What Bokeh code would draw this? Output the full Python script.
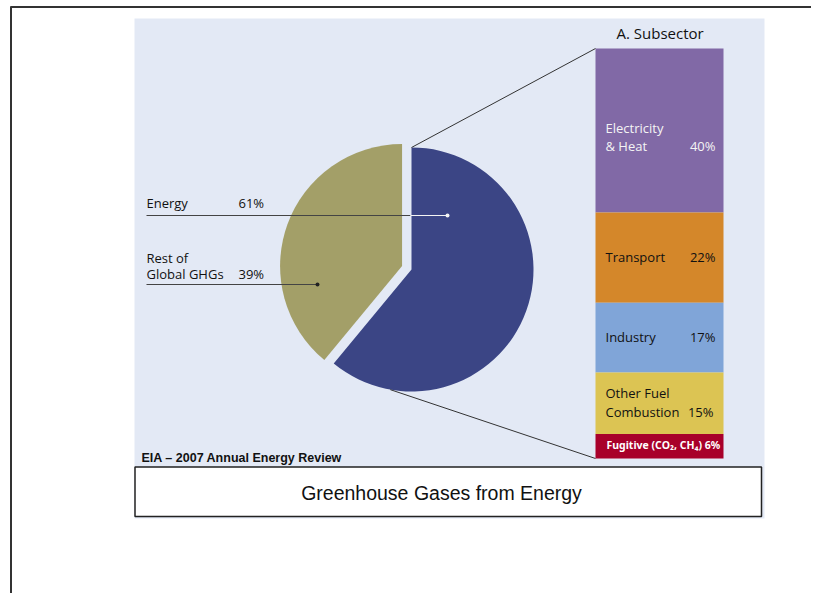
import math
from bokeh.plotting import figure
from bokeh.models import Range1d
from bokeh.core.properties import value
from bokeh.embed import file_html
from bokeh.resources import INLINE

# ---- data ----
pie_labels = ["Energy", "Rest of Global GHGs"]
pie_values = [61, 39]
pie_colors = ["#3b4585", "#a39f68"]

sub_labels = ["Electricity & Heat", "Transport", "Industry", "Other Fuel Combustion", "Fugitive (CO2, CH4)"]
sub_values = [40, 22, 17, 15, 6]
sub_colors = ["#8169a6", "#d4872a", "#80a5d8", "#dcc453", "#a8002a"]

title_text = "Greenhouse Gases from Energy"
source_text = "EIA \u2013 2007 Annual Energy Review"
sub_title = "A.  Subsector"

# ---- geometry helpers (picture px -> data) ----
H = 601
def Y(py):
    return H - py

W_FIG, H_FIG = 811, 593
p = figure(width=W_FIG, height=H_FIG, output_backend="svg", toolbar_location=None,
           x_range=Range1d(0, W_FIG), y_range=Range1d(H - H_FIG, H),
           min_border=0)
p.axis.visible = False
p.grid.visible = False
p.outline_line_color = None
p.background_fill_color = "white"
p.border_fill_color = "white"

# outer frame
p.line([10.5, 10.5], [Y(6), Y(601)], line_color="#333333", line_width=2)
p.line([10, 819], [Y(6.5), Y(6.5)], line_color="#333333", line_width=2)

# panel
p.quad(left=134, right=764, top=Y(18), bottom=Y(518), fill_color="#e3e9f5", line_color=None)

# ---- pie ----
cx, cy, r = 411, Y(269), 122
tot = sum(pie_values)
frac_e = pie_values[0] / tot
a_top = math.pi / 2
a_e_start = a_top - 2 * math.pi * frac_e
p.wedge(x=cx, y=cy, radius=r, start_angle=a_e_start, end_angle=a_top,
        fill_color=pie_colors[0], line_color=None)
a_r_end = a_top + 2 * math.pi * (pie_values[1] / tot)
mid = (a_top + a_r_end) / 2
off = 10
ox, oy = cx + off * math.cos(mid), cy + off * math.sin(mid)
p.wedge(x=ox, y=oy, radius=r, start_angle=a_top, end_angle=a_r_end,
        fill_color=pie_colors[1], line_color=None)

# ---- stacked subsector bar ----
bx0, bx1 = 595, 723
btop = Y(48)
scale = 4.1
tops, bots = [], []
acc = 0
for v in sub_values:
    tops.append(btop - acc * scale)
    acc += v
    bots.append(btop - acc * scale)
p.quad(left=bx0, right=bx1, top=tops, bottom=bots, fill_color=sub_colors, line_color=None)

# connectors
p.line([cx, bx0], [cy + r, btop], line_color="#333333", line_width=1)
ab = math.radians(-100)
p.line([cx + r * math.cos(ab), bx0], [cy + r * math.sin(ab), bots[-1]], line_color="#333333", line_width=1)

dark = "#111111"
F = value("Open Sans")

def txt(x, py, s, size, color=dark, align="left", font=F, style="normal"):
    fs = float(size.replace("px", ""))
    y = Y(py - 0.45 * fs)
    p.text(x=[x], y=[y], text=[s], text_font=font, text_font_size=size,
           text_color=color, text_align=align, text_baseline="alphabetic",
           text_font_style=style)

# subtitle
txt(616, 39, sub_title, "15px")

# bar labels
lx, rx = 605, 715
txt(lx, 133, "Electricity", "13px", color="#f4f4f4")
txt(lx, 151, "& Heat", "13px", color="#f4f4f4")
txt(rx, 151, f"{sub_values[0]}%", "13px", color="#f4f4f4", align="right")
txt(lx, 262, sub_labels[1], "13px")
txt(rx, 262, f"{sub_values[1]}%", "13px", align="right")
txt(lx, 342, sub_labels[2], "13px")
txt(rx, 342, f"{sub_values[2]}%", "13px", align="right")
txt(lx, 398, "Other Fuel", "13px")
txt(lx, 417, "Combustion", "13px")
txt(rx - 2, 417, f"{sub_values[3]}%", "13px", align="right")
txt(606, 449, "Fugitive (CO\u2082, CH\u2084) " + f"{sub_values[4]}%", "10.5px", color="white",
    font=value("Noto Sans"), style="bold")

# pie labels
txt(146, 208, pie_labels[0], "13px")
txt(238, 208, f"{pie_values[0]}%", "13px")
txt(146, 263, "Rest of", "13px")
txt(146, 279, "Global GHGs", "13px")
txt(238, 279, f"{pie_values[1]}%", "13px")

# leader lines
ey = Y(215)
p.line([146, 410], [ey, ey], line_color="#444444", line_width=1.2)
p.line([410, 447], [ey, ey], line_color="#f4f4f4", line_width=1.2)
p.scatter([447], [ey], size=4, fill_color="#f4f4f4", line_color=None)
ry = Y(284)
p.line([146, 317], [ry, ry], line_color="#444444", line_width=1.2)
p.scatter([317], [ry], size=4, fill_color="#222222", line_color=None)

# source
txt(141, 463, source_text, "12.5px", font=value("Liberation Sans"), style="bold", color="#111111")

# title box
p.quad(left=134.5, right=761, top=Y(466.5), bottom=Y(516), fill_color="white",
       line_color="#222222", line_width=1.5)
txt(441, 501, title_text, "19.5px", font=value("Liberation Sans"), align="center", color="#111111")

open("out.html", "w").write(file_html(p, INLINE))
